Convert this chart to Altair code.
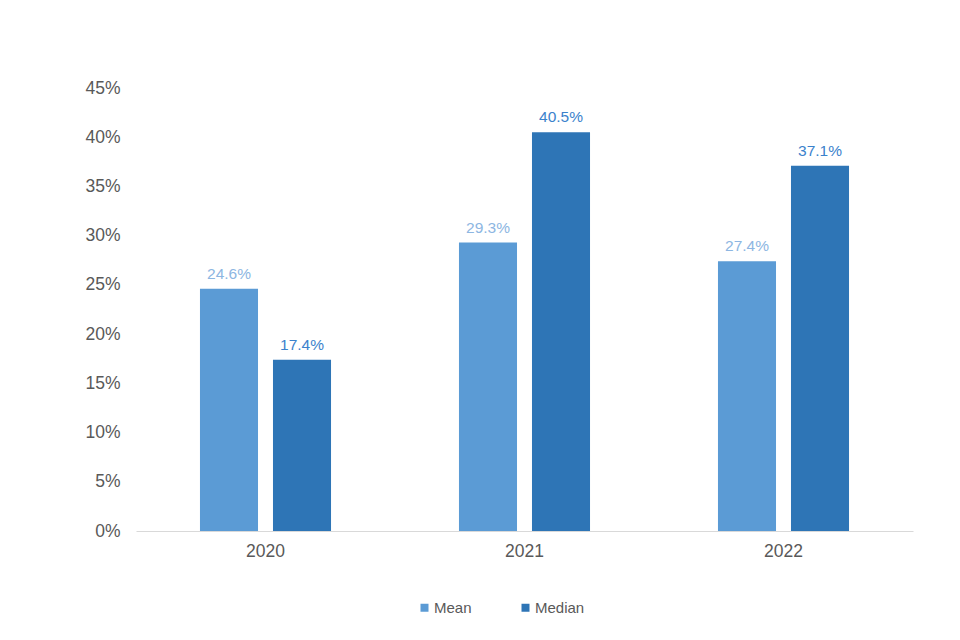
import altair as alt
import pandas as pd

years = ["2020", "2021", "2022"]
mean_vals = [24.6, 29.3, 27.4]
median_vals = [17.4, 40.5, 37.1]
series = ["Mean", "Median"]
colors = ["#5B9BD5", "#2E75B6"]
label_colors = ["#8DB6E2", "#3B82CC"]

rows = []
for i, y in enumerate(years):
    rows.append({"year": y, "series": "Mean", "value": mean_vals[i] / 100, "label": f"{mean_vals[i]:.1f}%"})
    rows.append({"year": y, "series": "Median", "value": median_vals[i] / 100, "label": f"{median_vals[i]:.1f}%"})
df = pd.DataFrame(rows)

font = "Liberation Sans"

x = alt.X("year:N", title=None,
          scale=alt.Scale(paddingInner=0.494, paddingOuter=0.247),
          axis=alt.Axis(labelAngle=0, labelFontSize=17.5, labelColor="#595959", labelFont=font,
                        domainColor="#D9D9D9", ticks=False, labelPadding=11))
xo = alt.XOffset("series:N", scale=alt.Scale(domain=series, paddingInner=0.205, paddingOuter=0))
y = alt.Y("value:Q", title=None,
          scale=alt.Scale(domain=[0, 0.45], nice=False),
          axis=alt.Axis(format=".0%", values=[i / 100 for i in range(0, 50, 5)], labelFontSize=17.5,
                        labelColor="#595959", labelFont=font, domain=False, ticks=False, grid=False,
                        labelPadding=16))

bars = alt.Chart(df).mark_bar().encode(
    x=x, xOffset=xo, y=y,
    color=alt.Color("series:N", scale=alt.Scale(domain=series, range=colors),
                    legend=alt.Legend(title=None, orient="none", legendX=281, legendY=512,
                                      direction="horizontal", symbolType="square", symbolSize=64,
                                      labelFontSize=15, labelColor="#595959", labelFont=font,
                                      labelOffset=2, columnPadding=46, symbolStrokeWidth=0)),
)

labels = alt.Chart(df).mark_text(baseline="bottom", dy=-7, fontSize=15.5, font=font).encode(
    x=x, xOffset=xo, y=y, text="label:N",
    color=alt.Color("series:N", scale=alt.Scale(domain=series, range=label_colors), legend=None),
)

chart = alt.layer(bars, labels).resolve_scale(color="independent").properties(
    width=777, height=443,
    background="white",
    autosize=alt.AutoSizeParams(type="none"),
    padding={"left": 128, "top": 80, "right": 30, "bottom": 100},
).configure_view(strokeWidth=0, stroke=None)

chart.save("out.html", embed_options={"renderer": "svg", "actions": False})
